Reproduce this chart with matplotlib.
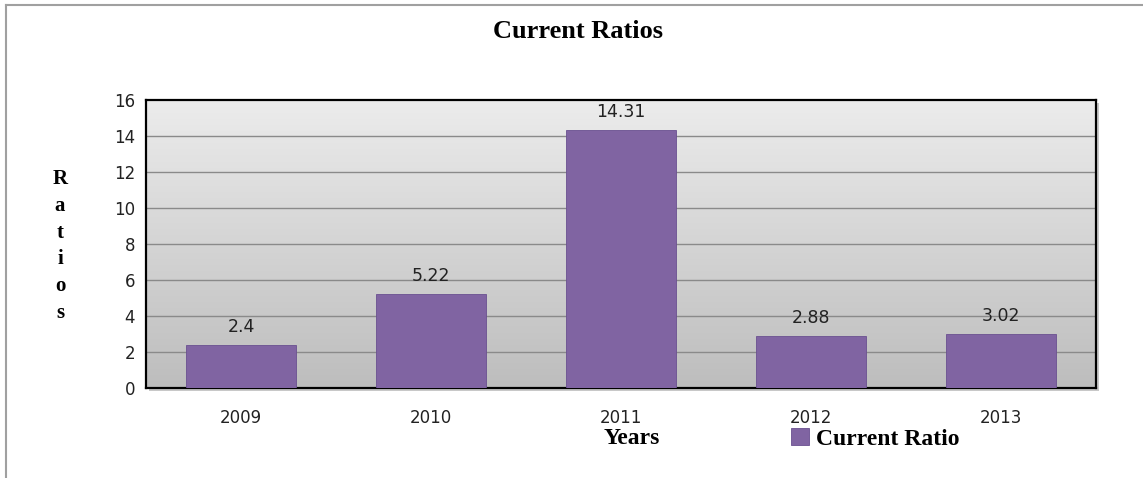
import matplotlib
matplotlib.use("Agg")
import matplotlib.pyplot as plt
import numpy as np
from matplotlib.patches import Rectangle

years = ["2009", "2010", "2011", "2012", "2013"]
current_ratio = [2.4, 5.22, 14.31, 2.88, 3.02]
value_labels = ["2.4", "5.22", "14.31", "2.88", "3.02"]
y_ticks = [0, 2, 4, 6, 8, 10, 12, 14, 16]

W, H = 1143, 478
fig = plt.figure(figsize=(W / 100, H / 100), dpi=100)

# outer chart border (left and top visible)
fig.add_artist(plt.Line2D([6 / W, 6 / W], [0, 1 - 5 / H], color="#a0a0a0", lw=1.5))
fig.add_artist(plt.Line2D([6 / W, 1], [1 - 5 / H, 1 - 5 / H], color="#a0a0a0", lw=1.5))

left, right, top, bottom = 146, 1096, 100, 388
ax = fig.add_axes([left / W, 1 - bottom / H, (right - left) / W, (bottom - top) / H])

# shadow behind plot area
fig.add_artist(Rectangle(((left + 3) / W, 1 - (bottom + 3) / H), (right - left) / W, (bottom - top) / H,
                         transform=fig.transFigure, facecolor="#c8c8c8", edgecolor="none", zorder=0))

x = np.arange(len(years))
ax.set_xlim(-0.5, len(years) - 0.5)
ax.set_ylim(0, 16)

# gradient background
grad = np.linspace(0, 1, 256).reshape(-1, 1)
cmap = matplotlib.colors.LinearSegmentedColormap.from_list("bg", ["#bdbdbd", "#ececec"])
ax.imshow(grad, extent=[-0.5, len(years) - 0.5, 0, 16], origin="lower", aspect="auto",
          cmap=cmap, zorder=0)

for t in y_ticks[1:-1]:
    ax.axhline(t, color="#8a8a8a", lw=1.0, zorder=1)

bars = ax.bar(x, current_ratio, width=0.575, color="#8064a2", edgecolor="#6a5090",
              linewidth=0.6, zorder=3, label="Current Ratio")
for xi, v, lab in zip(x, current_ratio, value_labels):
    ax.text(xi, v + 0.5, lab, ha="center", va="bottom", fontsize=12.5, color="#222222",
            family="DejaVu Sans")

ax.set_yticks(y_ticks)
ax.set_xticks(x)
ax.set_xticklabels(years)
ax.tick_params(axis="both", length=0, labelsize=12, colors="#222222")
ax.tick_params(axis="y", pad=8)
ax.tick_params(axis="x", pad=15)
for s in ax.spines.values():
    s.set_color("black")
    s.set_linewidth(1.6)
ax.set_zorder(1)

serif = ["Liberation Serif", "DejaVu Serif"]
fig.text(578 / W, 1 - 32 / H, "Current Ratios", ha="center", va="center",
         fontsize=19, fontweight="bold", family=serif)
fig.text(60 / W, 1 - 246 / H, "R\na\nt\ni\no\ns", ha="center", va="center",
         fontsize=15, fontweight="bold", family=serif, linespacing=1.45)
fig.text(632 / W, 1 - 438 / H, "Years", ha="center", va="center",
         fontsize=17, fontweight="bold", family=serif)

leg = fig.legend(handles=[bars], labels=["Current Ratio"], loc="center left",
                 bbox_to_anchor=(779 / W, 1 - 439 / H), frameon=False,
                 prop={"family": serif, "weight": "bold", "size": 17},
                 handlelength=0.75, handleheight=0.75, handletextpad=0.3, borderpad=0)

fig.savefig("out.png", dpi=100)
